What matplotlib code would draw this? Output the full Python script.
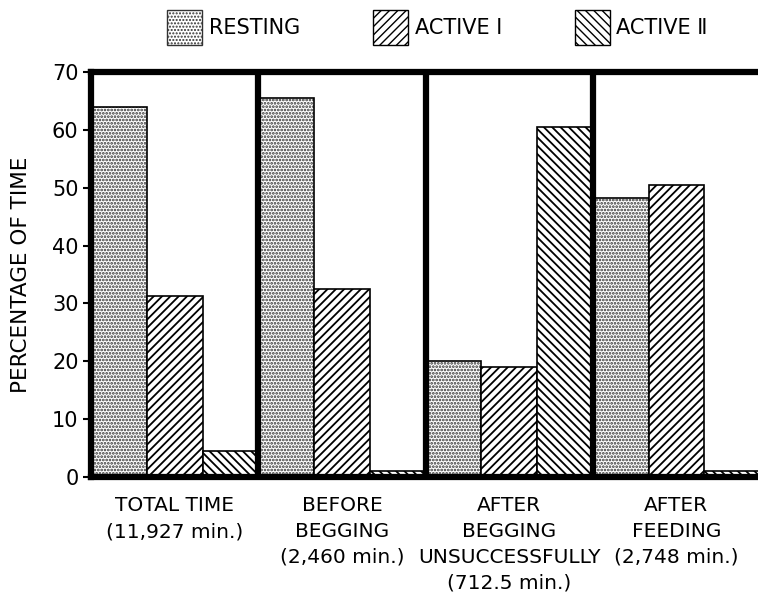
import matplotlib
matplotlib.use("Agg")
import matplotlib.pyplot as plt
import matplotlib.patches as mpatches
import numpy as np

plt.rcParams['font.family'] = ['DejaVu Sans']

# data
conditions = ["TOTAL TIME\n(11,927 min.)",
              "BEFORE\nBEGGING\n(2,460 min.)",
              "AFTER\nBEGGING\nUNSUCCESSFULLY\n(712.5 min.)",
              "AFTER\nFEEDING\n(2,748 min.)"]
resting = [64.0, 65.5, 20.0, 48.2]
active_1 = [31.3, 32.5, 19.0, 50.5]
active_2 = [4.5, 1.0, 60.5, 1.0]
series_names = ["RESTING", "ACTIVE \u2160", "ACTIVE \u2161"]

fig = plt.figure(figsize=(7.58, 5.93), dpi=100)
ax = fig.add_axes([91/758, 116/593, 669/758, 405/593])

n = len(conditions)
x = np.arange(n) * 3

# resting: stippled
with plt.rc_context({'hatch.linewidth': 1.3}):
    ax.bar(x + 0.5, resting, width=1.0, color='white', edgecolor='#333333',
           hatch='.....', linewidth=0)
ax.bar(x + 0.5, resting, width=1.0, fill=False, edgecolor='black', linewidth=1.2)

with plt.rc_context({'hatch.linewidth': 1.3}):
    ax.bar(x + 1.5, active_1, width=1.0, color='white', edgecolor='black',
           hatch='////', linewidth=1.2)
    ax.bar(x + 2.5, active_2, width=1.0, color='white', edgecolor='black',
           hatch='\\\\\\\\', linewidth=1.2)

# thick panel separators
for xs in x[1:]:
    ax.axvline(xs, color='black', linewidth=4.5, zorder=3)

for side in ['left', 'top', 'bottom']:
    ax.spines[side].set_linewidth(4.5)
ax.spines['right'].set_visible(False)

ax.set_xlim(0, 12)
ax.set_ylim(0, 70)
ax.set_yticks(range(0, 71, 10))
ax.tick_params(axis='y', labelsize=15, length=6, width=1.5, pad=3)
ax.set_xticks(x + 1.5)
ax.set_xticklabels(conditions, fontsize=14.5, linespacing=1.45)
ax.tick_params(axis='x', length=0, pad=14)
ax.set_ylabel("PERCENTAGE OF TIME", fontsize=15.5, labelpad=15)

with plt.rc_context({'hatch.linewidth': 1.3}):
    handles = [mpatches.Patch(facecolor='white', edgecolor='#333333', hatch='.....'),
               mpatches.Patch(facecolor='white', edgecolor='black', hatch='////'),
               mpatches.Patch(facecolor='white', edgecolor='black', hatch='\\\\\\\\')]
fig.legend(handles, series_names, loc='center', bbox_to_anchor=(0.577, 0.954),
           ncol=3, frameon=False, fontsize=15, handlelength=1.7, handleheight=2.2,
           handletextpad=0.3, columnspacing=3.5)

fig.savefig("out.png", dpi=100)
